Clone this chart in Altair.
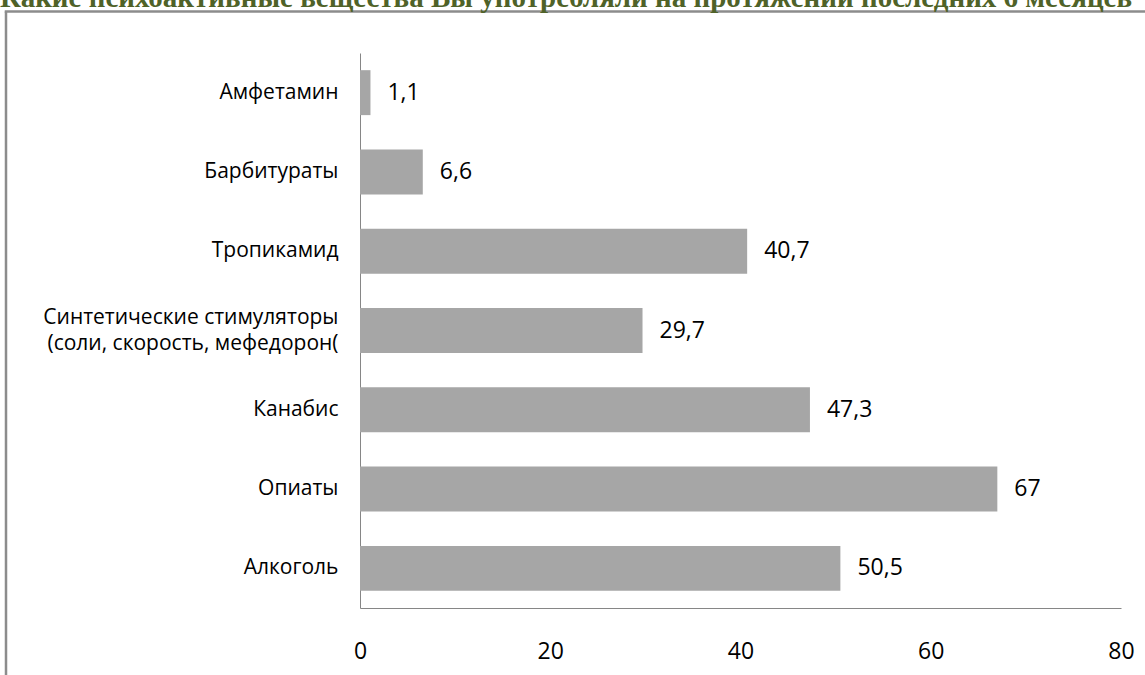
import altair as alt
import pandas as pd

categories = [
    "Амфетамин",
    "Барбитураты",
    "Тропикамид",
    "Синтетические стимуляторы|(соли, скорость, мефедорон(",
    "Канабис",
    "Опиаты",
    "Алкоголь",
]
values = [1.1, 6.6, 40.7, 29.7, 47.3, 67, 50.5]
x_ticks = [0, 20, 40, 60, 80]
title_text = "Какие психоактивные вещества Вы употребляли на протяжении последних 6 месяцев"

df = pd.DataFrame({"category": categories, "value": values})

AXIS_GRAY = "#868686"
FONT = "Open Sans"

y_scale = alt.Scale(paddingInner=0.433, paddingOuter=0.2165)

y_enc = alt.Y(
    "category:N",
    sort=categories,
    scale=y_scale,
    axis=alt.Axis(
        title=None,
        labelExpr="split(datum.label, '|')",
        labelOffset={"condition": {"test": "indexof(datum.value, '|') >= 0", "value": -13}, "value": 0},
        ticks=False,
        domainColor=AXIS_GRAY,
        domainWidth=1,
        labelFont=FONT,
        labelFontSize=21,
        labelColor="#000000",
        labelPadding=22,
        labelLineHeight=26,
        labelLimit=400,
    ),
)
x_enc = alt.X(
    "value:Q",
    scale=alt.Scale(domain=[0, 80], nice=False),
    axis=alt.Axis(
        title=None,
        values=x_ticks,
        grid=False,
        ticks=False,
        labelFlush=False,
        domainColor=AXIS_GRAY,
        domainWidth=1,
        labelFont=FONT,
        labelFontSize=23,
        labelColor="#000000",
        labelPadding=32,
    ),
)

bars = alt.Chart(df).mark_bar(color="#A6A6A6").encode(x=x_enc, y=y_enc)

labels = (
    alt.Chart(df)
    .transform_calculate(lbl="replace(format(datum.value, '.1~f'), '.', ',')")
    .mark_text(align="left", baseline="middle", dx=17, font=FONT, fontSize=23, color="#000000")
    .encode(x="value:Q", y=alt.Y("category:N", sort=categories, scale=y_scale), text="lbl:N")
)

one = alt.Data(values=[{}])
frame_left = alt.Chart(one).mark_rule(color="#8c8c8c", strokeWidth=2.5).encode(
    x=alt.value(-354), y=alt.value(-41.5), y2=alt.value(720)
)
frame_top = alt.Chart(one).mark_rule(color="#8c8c8c", strokeWidth=2.5).encode(
    y=alt.value(-41.5), x=alt.value(-355.25), x2=alt.value(900)
)
title = alt.Chart(alt.Data(values=[{"t": title_text}])).mark_text(
    align="left", baseline="alphabetic", font="Liberation Serif", fontWeight="bold",
    fontSize=29, color="#4F6228"
).encode(x=alt.value(-360), y=alt.value(-46), text="t:N")

chart = (
    alt.layer(frame_left, frame_top, title, bars, labels)
    .properties(
        width=761,
        height=555,
        autosize=alt.AutoSizeParams(type="none"),
        padding={"left": 360, "top": 53, "right": 24, "bottom": 67},
        background="white",
    )
    .configure_view(strokeWidth=0)
)

chart.save("out.html", embed_options={"renderer": "svg", "actions": False})
